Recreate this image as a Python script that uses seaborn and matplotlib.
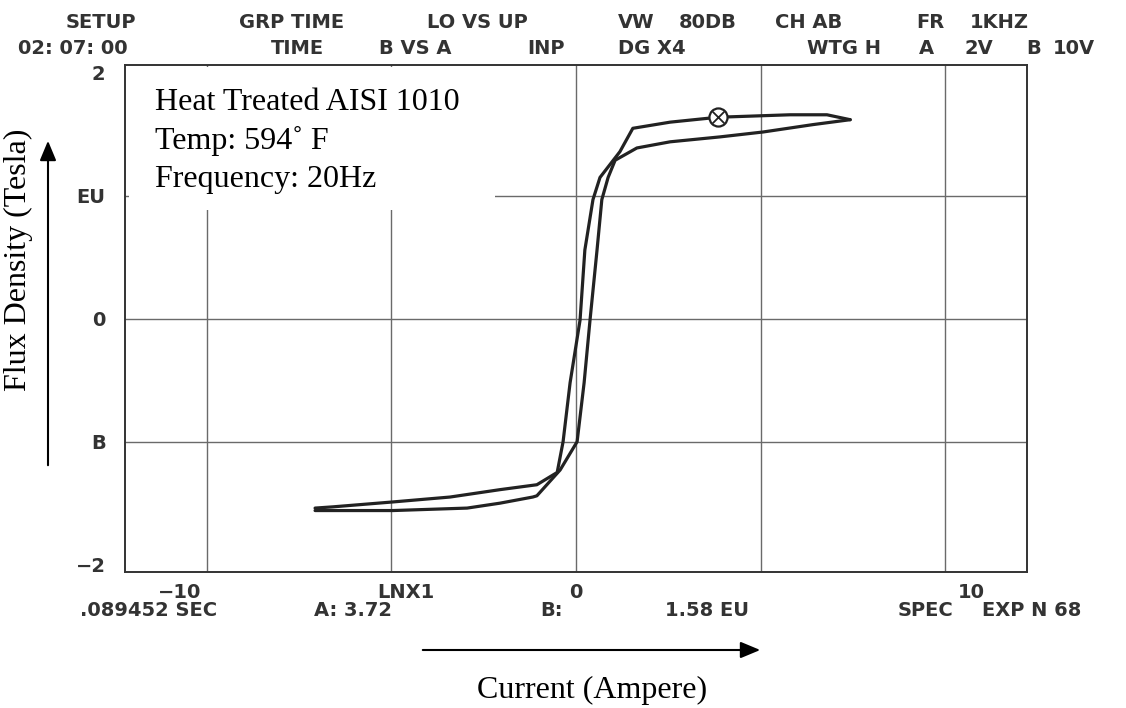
import matplotlib
matplotlib.use("Agg")
import matplotlib.pyplot as plt
import seaborn as sns
import numpy as np
from matplotlib.patches import Rectangle, FancyArrowPatch

sns.set_theme(style="white")
plt.rcParams['font.family'] = ['DejaVu Sans']

# ---- data ----
# decreasing-current branch (from +saturation to -saturation)
down_x = [7.43, 6.80, 5.80, 3.85, 2.55, 1.54, 1.19, 0.65, 0.46, 0.24, 0.11, -0.16, -0.35, -0.51,
          -1.06, -2.06, -3.41, -4.96, -6.59, -7.07]
down_y = [1.62, 1.66, 1.66, 1.64, 1.60, 1.55, 1.36, 1.15, 0.97, 0.56, -0.01, -0.52, -1.00, -1.25,
          -1.35, -1.39, -1.45, -1.49, -1.53, -1.54]
# increasing-current branch (from -saturation to +saturation)
up_x = [-7.07, -4.96, -2.95, -2.06, -1.17, -1.06, -0.43, 0.03, 0.22, 0.38, 0.57, 0.70, 0.87, 1.06,
        1.65, 2.55, 3.90, 5.07, 6.42, 7.43]
up_y = [-1.56, -1.56, -1.54, -1.50, -1.45, -1.44, -1.23, -1.00, -0.52, -0.01, 0.56, 0.97, 1.15, 1.29,
        1.39, 1.44, 1.48, 1.52, 1.58, 1.62]
cursor_x = [3.85]
cursor_y = [1.64]

grid_x = [-10, -5, 0, 5, 10]
grid_y = [-1, 0, 1]
xlabel_pos = [-10.75, -4.6, 0, 10.7]
xlabel_txt = ["\u221210", "LNX1", "0", "10"]
ytick_pos = [2, 1, 0, -1, -2]
ytick_txt = ["2", "EU", "0", "B", "\u22122"]

header1 = [("SETUP", 66), ("GRP TIME", 239), ("LO VS UP", 427), ("VW", 618), ("80DB", 679),
           ("CH AB", 775), ("FR", 916), ("1KHZ", 970)]
header2 = [("02: 07: 00", 18), ("TIME", 271), ("B VS A", 379), ("INP", 527), ("DG X4", 618),
           ("WTG H", 807), ("A", 919), ("2V", 964), ("B", 1026), ("10V", 1053)]
footer = [(".089452 SEC", 80), ("A: 3.72", 314), ("B:", 540), ("1.58 EU", 665),
          ("SPEC", 898), ("EXP N 68", 982)]
info_lines = ["Heat Treated AISI 1010", "Temp: 594\u02da F", "Frequency: 20Hz"]

# ---- figure ----
W, H = 1126, 708
fig = plt.figure(figsize=(W / 100, H / 100), dpi=100)
fig.patch.set_facecolor("white")
ax = fig.add_axes([125 / W, 1 - 572 / H, 902 / W, 507 / H])
ax.set_facecolor("white")

ink = "#222222"
gridc = "#6a6a6a"
for gx in grid_x:
    ax.axvline(gx, color=gridc, lw=1.0, zorder=1)
for gy in grid_y:
    ax.axhline(gy, color=gridc, lw=1.0, zorder=1)

sns.lineplot(x=down_x, y=down_y, sort=False, estimator=None, ax=ax, color=ink, lw=2.3, zorder=5)
sns.lineplot(x=up_x, y=up_y, sort=False, estimator=None, ax=ax, color=ink, lw=2.3, zorder=5)
ax.scatter(cursor_x, cursor_y, s=170, marker="o", facecolors="white", edgecolors=ink, lw=1.6, zorder=6)
ax.scatter(cursor_x, cursor_y, s=70, marker="x", color=ink, lw=1.3, zorder=7)

ax.set_xlim(-12.22, 12.22)
ax.set_ylim(-2.06, 2.065)

ax.set_xticks(xlabel_pos)
ax.set_xticklabels(xlabel_txt)
ax.set_yticks(ytick_pos)
ax.set_yticklabels(ytick_txt)
ax.grid(False)
ax.tick_params(axis="both", which="both", length=0)
ax.tick_params(axis="x", pad=8, labelsize=14, labelcolor="#333333")
ax.tick_params(axis="y", pad=14, labelsize=14, labelcolor="#333333")
for lab in ax.get_xticklabels() + ax.get_yticklabels():
    lab.set_fontweight("bold")
ax.set_xlabel("")
ax.set_ylabel("")
for s in ax.spines.values():
    s.set_visible(True)
    s.set_color("#333333")
    s.set_linewidth(1.4)

# white info box covering the grid
ax.add_patch(Rectangle((0.004, 0.714), 0.406, 0.282, transform=ax.transAxes,
                       facecolor="white", edgecolor="none", zorder=3))

def fx(px):
    return px / W

def fy(py):
    return 1 - py / H

plot_font = dict(fontsize=14, fontweight="bold", color="#333333", family="DejaVu Sans")
for txt, x in header1:
    fig.text(fx(x), fy(22), txt, ha="left", va="center", **plot_font)
for txt, x in header2:
    fig.text(fx(x), fy(48), txt, ha="left", va="center", **plot_font)
for txt, x in footer:
    fig.text(fx(x), fy(611), txt, ha="left", va="center", **plot_font)

serif = dict(fontsize=23, color="black", family="Liberation Serif")
for txt, base in zip(info_lines, [110, 149, 187]):
    fig.text(fx(155), fy(base), txt, ha="left", va="baseline", **serif)

fig.text(fx(592), fy(690), "Current (Ampere)", ha="center", va="center", **serif)
fig.text(fx(18), fy(260), "Flux Density (Tesla)", ha="center", va="center", rotation=90, **serif)

fig.add_artist(FancyArrowPatch((fx(420), fy(650)), (fx(763), fy(650)), transform=fig.transFigure,
                               arrowstyle="-|>,head_length=12,head_width=5", color="black", lw=1.5,
                               mutation_scale=1))
fig.add_artist(FancyArrowPatch((fx(48), fy(468)), (fx(48), fy(138)), transform=fig.transFigure,
                               arrowstyle="-|>,head_length=12,head_width=5", color="black", lw=1.5,
                               mutation_scale=1))

fig.savefig("out.png", dpi=100, facecolor="white")
